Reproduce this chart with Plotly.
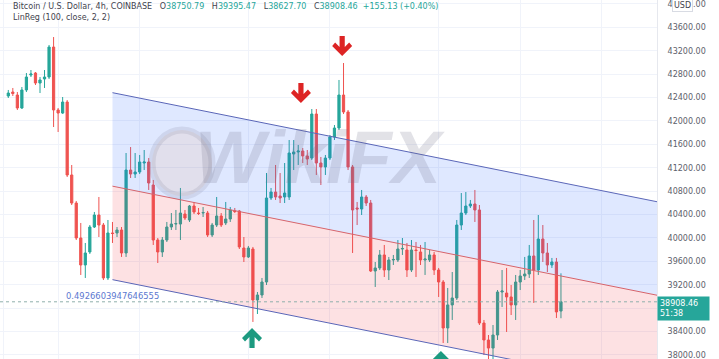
import plotly.graph_objects as go

# ---- BTC/USD 4h candles (bar index, OHLC) ----
bars = list(range(123))

open_ = [42426, 42494, 42443, 42221, 42529, 42785, 42819, 42648, 42717, 42751,
         43263, 42187, 42135, 42323, 41076, 40597, 39999, 39538, 39760, 40187,
         40392, 40221, 39316, 40085, 40085, 40136, 39743, 41161, 41093, 41127,
         41281, 41298, 40905, 39965, 39760, 39965, 40187, 40238, 40238, 40409,
         40307, 40546, 40426, 40426, 40426, 40051, 40221, 40375, 40256, 40324,
         40461, 40461, 39828, 39675, 39811, 38940, 39025, 39247, 40683, 40785,
         40717, 40700, 40700, 41435, 41469, 41486, 41401, 41366, 42118, 41281,
         41213, 41366, 41725, 41879, 42443, 42153, 41213, 40512, 40495, 40700,
         40597, 39435, 39487, 39709, 39452, 39623, 39623, 39811, 39794, 39452,
         39794, 39760, 39623, 39623, 39709, 39452, 39247, 38461, 38855, 38974,
         40221, 40426, 40546, 40580, 40478, 38546, 38256, 38118, 38341, 39076,
         39059, 38991, 38855, 39247, 39350, 39384, 39692, 39452, 39982, 39743,
         39538, 39589, 38750.79]

high = [42529, 42563, 42494, 42580, 42819, 42870, 42836, 42751, 42870, 43298,
        43434, 42221, 42409, 42357, 41247, 40632, 40256, 39914, 40221, 40444,
        40700, 40256, 40307, 40273, 40187, 40187, 41452, 41554, 41452, 41418,
        41503, 41366, 40991, 39999, 40016, 40273, 40426, 40478, 40854, 40478,
        40563, 40615, 40512, 40529, 40461, 40256, 40700, 40426, 40615, 40529,
        40512, 40478, 40016, 39863, 39846, 39076, 39316, 41110, 40854, 41247,
        41110, 41281, 41674, 41674, 41589, 41537, 41503, 42204, 42204, 41384,
        41418, 41759, 41930, 42700, 42990, 42187, 41247, 40615, 40820, 40734,
        40649, 39589, 39794, 39880, 39675, 39709, 39965, 39999, 39914, 39965,
        39931, 39880, 39931, 39794, 39760, 39487, 39281, 39145, 39418, 40307,
        40768, 40785, 40649, 40820, 40563, 38598, 38341, 38512, 39110, 39452,
        39487, 39196, 39367, 39452, 39675, 39880, 40307, 40392, 40221, 39914,
        39658, 39658, 39395.47]

low = [42392, 42426, 42187, 42205, 42494, 42751, 42614, 42477, 42563, 42717,
       41896, 41811, 42120, 41042, 40563, 39965, 39367, 39316, 39726, 40170,
       40016, 39281, 39281, 39914, 40016, 39675, 39675, 41025, 41025, 41093,
       41161, 40820, 39880, 39572, 39675, 39931, 40136, 40136, 39965, 40307,
       40273, 40409, 40392, 40358, 40016, 40016, 40187, 40187, 40221, 40273,
       40426, 39811, 39589, 39658, 38564, 38700, 38974, 39196, 40649, 40649,
       40597, 40597, 40649, 41161, 41247, 41281, 41247, 41332, 41076, 40905,
       41076, 41332, 41674, 41845, 42118, 41161, 39743, 40221, 40392, 40546,
       39418, 39162, 39452, 39333, 39281, 39538, 39589, 39709, 39333, 39418,
       39333, 39538, 39367, 39589, 39367, 38991, 38204, 38204, 38598, 38940,
       40136, 40392, 40512, 40273, 38512, 37999, 37880, 37880, 38256, 38820,
       38393, 38683, 38598, 39110, 39281, 39316, 38889, 39367, 39589, 39418,
       39487, 38632, 38627.70]

close = [42477, 42468, 42221, 42529, 42751, 42802, 42648, 42700, 42751, 43263,
         42187, 42135, 42323, 41076, 40597, 39999, 39538, 39743, 40187, 40392,
         40221, 39316, 40085, 40076, 40136, 39743, 41161, 41093, 41127, 41298,
         41298, 40939, 39965, 39760, 39965, 40187, 40238, 40246, 40426, 40341,
         40546, 40444, 40418, 40435, 40051, 40221, 40375, 40221, 40324, 40478,
         40452, 39846, 39675, 39828, 38940, 39025, 39247, 40683, 40785, 40700,
         40683, 40768, 41452, 41469, 41486, 41401, 41349, 42118, 41281, 41213,
         41366, 41725, 41879, 42443, 42153, 41213, 40478, 40495, 40700, 40597,
         39435, 39487, 39709, 39452, 39623, 39632, 39811, 39820, 39452, 39794,
         39785, 39623, 39640, 39709, 39452, 39247, 38461, 38855, 38974, 40221,
         40426, 40546, 40580, 40478, 38546, 38256, 38118, 38341, 39076, 39093,
         38991, 38855, 39247, 39350, 39384, 39692, 39452, 39982, 39743, 39538,
         39589, 38735, 38908.46]

# ---- Linear regression channel (100 bars, 2 deviations, extended right) ----
linreg_bars = [23, 122]
linreg_mid = [40885, 39350]
linreg_dev = 1598
pearson_r = "0.4926603947646555"

# ---- header values ----
ohlc_text = [("O", "38750.79"), ("H", "39395.47"), ("L", "38627.70"), ("C", "38908.46")]
change_text = "+155.13 (+0.40%)"
last_price = 38908.46
countdown = "51:38"

# ---- price axis ticks ----
price_ticks = [38000, 38400, 38800, 39200, 39600, 40000, 40400, 40800, 41200,
               41600, 42000, 42400, 42800, 43200, 43600, 44000]
day_marks = [-1, 11, 29, 53, 71, 95, 113, 131]

# ---- signal arrows: (bar position, price at tip, direction) ----
arrows = [(64.6, 42306, "down"), (73.7, 43110, "down"),
          (53.8, 38461, "up"), (95.5, 38068, "up")]

X_RANGE = [-1.83, 143.2]
Y_RANGE = [37931, 44067]

UP = "#26a69a"
DOWN = "#ef5350"
TXT = "DejaVu Sans"

fig = go.Figure()

# channel: extend regression line to the right edge
slope = (linreg_mid[1] - linreg_mid[0]) / (linreg_bars[1] - linreg_bars[0])
x_ch = [linreg_bars[0], X_RANGE[1]]
mid = [linreg_mid[0], linreg_mid[0] + slope * (X_RANGE[1] - linreg_bars[0])]
upper = [m + linreg_dev for m in mid]
lower = [m - linreg_dev for m in mid]

fig.add_trace(go.Scatter(x=x_ch, y=lower, mode="lines",
                         line=dict(color="#5a66b8", width=1), hoverinfo="skip"))
fig.add_trace(go.Scatter(x=x_ch, y=mid, mode="lines", fill="tonexty",
                         fillcolor="rgba(242,54,69,0.15)",
                         line=dict(color="#d6646b", width=1), hoverinfo="skip"))
fig.add_trace(go.Scatter(x=x_ch, y=upper, mode="lines", fill="tonexty",
                         fillcolor="rgba(41,98,255,0.15)",
                         line=dict(color="#5a66b8", width=1), hoverinfo="skip"))

fig.add_trace(go.Candlestick(
    x=bars, open=open_, high=high, low=low, close=close,
    increasing=dict(line=dict(color=UP, width=1), fillcolor=UP),
    decreasing=dict(line=dict(color=DOWN, width=1), fillcolor=DOWN),
    whiskerwidth=0,
))


def arrow_path(direction):
    # chevron arrow, tip at the anchor point, sizes in pixels (y up)
    pts = [(0, 0), (10, 10), (7, 13.5), (2.6, 9), (2.6, 20), (-2.6, 20),
           (-2.6, 9), (-7, 13.5), (-10, 10)]
    s = 1 if direction == "down" else -1
    return "M " + " L ".join(f"{px},{s * py}" for px, py in pts) + " Z"


shapes = [
    # last price dotted line
    dict(type="line", xref="paper", x0=0, x1=1, yref="y", y0=last_price, y1=last_price,
         line=dict(color="#8fb0ab", width=1, dash="dot"), layer="above"),
    # watermark emblem
    dict(type="circle", xref="paper", yref="paper",
         x0=152 / 657, x1=212 / 657, y0=1 - 196 / 359, y1=1 - 130 / 359,
         fillcolor="rgba(240,165,110,0.13)", line=dict(color="rgba(120,120,140,0.16)", width=7),
         layer="above"),
]
for xb, yp, d in arrows:
    shapes.append(dict(type="path", xref="x", yref="y", xsizemode="pixel", ysizemode="pixel",
                       xanchor=xb, yanchor=yp, path=arrow_path(d),
                       fillcolor="#dd2424" if d == "down" else "#1c9a80",
                       line=dict(width=0), layer="above"))

annotations = []

# header lines
sep = "&nbsp;&nbsp;&nbsp;"
header = ("Bitcoin / U.S. Dollar, 4h, COINBASE" + sep
          + sep.join(f"{k}<span style='color:{UP}'>{v}</span>" for k, v in ohlc_text)
          + f"&nbsp;&nbsp;<span style='color:{UP}'>{change_text}</span>")
annotations.append(dict(text=header, xref="paper", yref="paper", x=0, y=1,
                        xanchor="left", yanchor="middle", xshift=11, yshift=-6, showarrow=False,
                        font=dict(family=TXT, size=8, color="#3f434e"), align="left"))
annotations.append(dict(text="LinReg (100, close, 2, 2)", xref="paper", yref="paper", x=0, y=1,
                        xanchor="left", yanchor="middle", xshift=11, yshift=-17, showarrow=False,
                        font=dict(family=TXT, size=8, color="#3f434e"), align="left"))

# Pearson's R under the channel start
annotations.append(dict(text=pearson_r, x=linreg_bars[0], y=lower[0], xref="x", yref="y",
                        yanchor="top", yshift=-9, showarrow=False,
                        font=dict(family=TXT, size=8.4, color="#5b78d0")))

# watermark text
annotations.append(dict(text="<b><i>WikiFX</i></b>", xref="paper", yref="paper",
                        x=320 / 657, y=1 - 157 / 359, showarrow=False,
                        font=dict(family="Liberation Sans", size=74, color="rgba(110,110,135,0.2)")))

# last price tag on the axis
annotations.append(dict(text=f"{last_price:.2f}<br>{countdown}", xref="paper", yref="y",
                        x=1, y=last_price, xanchor="left", yanchor="top", yshift=6,
                        showarrow=False, align="left", bgcolor=UP, borderpad=2, width=47,
                        font=dict(family=TXT, size=8, color="white")))

# currency tag at top of the axis
annotations.append(dict(text="USD", xref="paper", yref="paper", x=1, y=1, xanchor="left",
                        yanchor="top", xshift=15, yshift=1, showarrow=False, bgcolor="white",
                        bordercolor="#d8dbe3", borderwidth=1, borderpad=1,
                        font=dict(family=TXT, size=8, color="#3f434e")))

tick_text = ["" if v == 38800 else f"{v:.2f}" for v in price_ticks]

fig.update_layout(
    width=719, height=359,
    margin=dict(l=0, r=62, t=0, b=0),
    paper_bgcolor="white", plot_bgcolor="white",
    showlegend=False,
    shapes=shapes, annotations=annotations,
    xaxis=dict(range=X_RANGE, rangeslider=dict(visible=False), showticklabels=False,
               tickvals=day_marks, showgrid=True, gridcolor="#f0f3fa", gridwidth=1,
               zeroline=False, showline=False, fixedrange=True),
    yaxis=dict(range=Y_RANGE, side="right", tickvals=price_ticks, ticktext=tick_text,
               tickfont=dict(family=TXT, size=8, color="#5d606b"),
               showgrid=True, gridcolor="#f0f3fa", gridwidth=1, zeroline=False,
               showline=True, linecolor="#e6e8ee", ticks="", ticklabelstandoff=8,
               ticklabeloverflow="allow", fixedrange=True),
)

fig.write_html("out.html")
